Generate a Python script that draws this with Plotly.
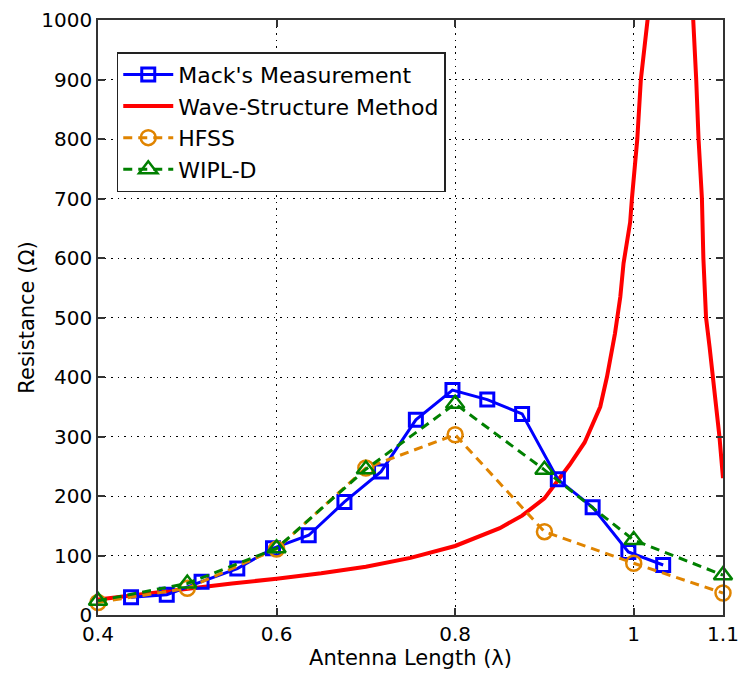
import plotly.graph_objects as go

# ---- data ----
mack_x = [0.437, 0.477, 0.516, 0.556, 0.596, 0.636, 0.676, 0.717, 0.756, 0.797,
          0.836, 0.875, 0.915, 0.954, 0.994, 1.033]
mack_y = [30, 34, 56, 78, 112, 134, 190, 241, 328, 378, 362, 338, 228, 181, 106, 84]

wave_x = [0.40, 0.45, 0.50, 0.55, 0.60, 0.65, 0.70, 0.75, 0.80, 0.85, 0.875, 0.90,
          0.928, 0.945, 0.9625, 0.970, 0.979, 0.985, 0.9886, 0.9924, 0.996, 0.998,
          1.004, 1.008, 1.0155, 1.040, 1.067, 1.070, 1.0726, 1.0764, 1.078, 1.081,
          1.085, 1.0886, 1.093, 1.096, 1.100]
wave_y = [26, 35, 45, 53, 61, 70, 81, 96, 116, 146, 167, 196,
          252, 290, 350, 400, 473, 535, 591, 625, 660, 700,
          800, 900, 1000, 1800, 1000, 900, 800, 700, 600, 500,
          450, 400, 344, 300, 230]

sim_x = [0.4, 0.5, 0.6, 0.7, 0.8, 0.9, 1.0, 1.1]
hfss_y = [21, 45, 111, 247, 303, 140, 87, 37]
wipl_y = [24, 53, 112, 245, 355, 244, 126, 67]

x_ticks = [0.4, 0.6, 0.8, 1.0, 1.1]
x_tick_text = ["0.4", "0.6", "0.8", "1", "1.1"]
y_ticks = [0, 100, 200, 300, 400, 500, 600, 700, 800, 900, 1000]

BLUE = "#0000FF"
RED = "#FF0000"
ORANGE = "#E08400"
GREEN = "#008000"
FONT = "DejaVu Sans"

fig = go.Figure()

fig.add_trace(go.Scatter(
    x=wave_x, y=wave_y, mode="lines", name="Wave-Structure Method",
    line=dict(color=RED, width=4), legendrank=2))

fig.add_trace(go.Scatter(
    x=mack_x, y=mack_y, mode="lines+markers", name="Mack's Measurement",
    line=dict(color=BLUE, width=3),
    marker=dict(symbol="square-open", size=13, color=BLUE, line=dict(width=3, color=BLUE)),
    cliponaxis=False, legendrank=1))

fig.add_trace(go.Scatter(
    x=sim_x, y=hfss_y, mode="lines+markers", name="HFSS",
    line=dict(color=ORANGE, width=3, dash="9px,6px"),
    marker=dict(symbol="circle-open", size=15, color=ORANGE, line=dict(width=2.5, color=ORANGE)),
    cliponaxis=False, legendrank=3))

fig.add_trace(go.Scatter(
    x=sim_x, y=wipl_y, mode="lines+markers", name="WIPL-D",
    line=dict(color=GREEN, width=3, dash="9px,6px"),
    marker=dict(symbol="triangle-up-open", size=16, color=GREEN, line=dict(width=2.5, color=GREEN)),
    cliponaxis=False, legendrank=4))

axis_common = dict(
    showline=True, linecolor="#333333", linewidth=1.5, mirror="ticks",
    ticks="inside", ticklen=7, tickwidth=1.5, tickcolor="#333333",
    showgrid=True, gridcolor="#000000", gridwidth=1, griddash="1.5px,5px",
    zeroline=False, automargin=False,
    tickfont=dict(family=FONT, size=20, color="black"),
)

fig.update_xaxes(
    range=[0.4, 1.1], tickvals=x_ticks, ticktext=x_tick_text,
    title=dict(text="Antenna Length (λ)", font=dict(family=FONT, size=21, color="black"), standoff=3),
    **axis_common)
fig.update_yaxes(
    range=[0, 1000], tickvals=y_ticks,
    title=dict(text="Resistance (Ω)", font=dict(family=FONT, size=21, color="black"), standoff=1),
    **axis_common)

fig.update_layout(
    width=742, height=680,
    margin=dict(l=98, r=19, t=20, b=65),
    paper_bgcolor="white", plot_bgcolor="white",
    font=dict(family=FONT, color="black"),
    legend=dict(
        x=0.03, y=0.946, xanchor="left", yanchor="top",
        bgcolor="white", bordercolor="#222222", borderwidth=1.5,
        font=dict(family=FONT, size=22, color="black"),
        tracegroupgap=0, itemwidth=50,
    ),
    showlegend=True,
)

fig.write_html("out.html")
